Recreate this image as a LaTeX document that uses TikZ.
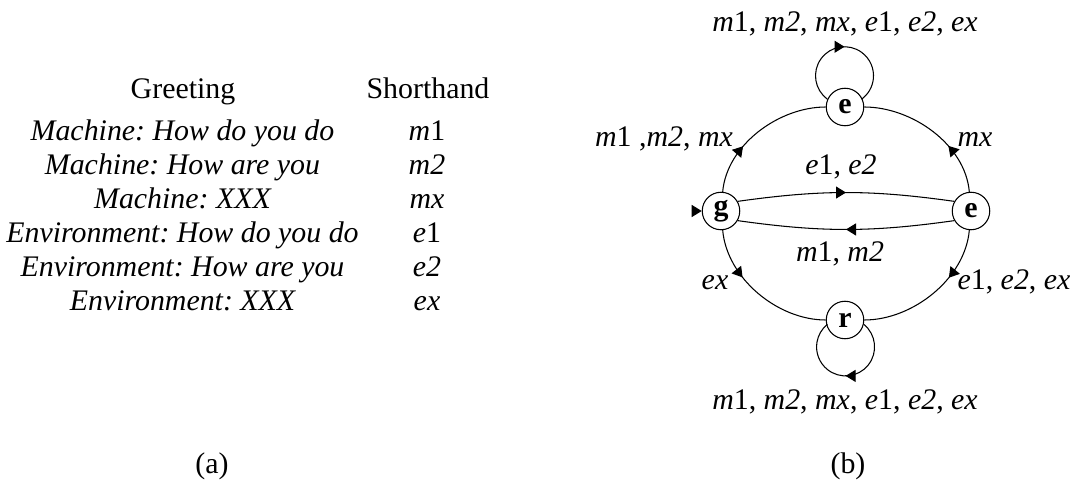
\documentclass[tikz,border=0pt]{standalone}
\usepackage{fontspec}
\setmainfont{Liberation Serif}
\usetikzlibrary{positioning, arrows.meta, calc, decorations.markings}
\frenchspacing

\begin{document}
\begin{tikzpicture}[
    every node/.style={font=\fontsize{17}{20}\selectfont},
    line width=0.6pt,
    state/.style={
        circle,
        draw,
        minimum size=0.75cm,
        inner sep=0pt,
        font=\fontsize{17}{20}\selectfont\bfseries
    },
    head/.style={anchor=base},
    cell/.style={
        anchor=base,
        font=\fontsize{17}{20}\selectfont\itshape
    },
    trans/.style={anchor=base},
    tip/.style={-{Triangle[length=2mm,width=2.4mm]}},
    midarrow/.style={
        postaction={decorate},
        decoration={markings,
            mark=at position #1 with {\arrow{Triangle[length=2mm,width=2.4mm]}}}
    }
]
\useasboundingbox (0,0) rectangle (21.44,9.58);

% --- (a): tabella dei saluti ---
\node[head] (hgreet) at (3.66,7.60) {Greeting};
\node[head] (hshort) at (8.56,7.60) {Shorthand};

\node[cell] (m1txt) at (3.65,6.76) {Machine: How do you do};
\node[cell] (m2txt) at (3.65,6.08) {Machine: How are you};
\node[cell] (mxtxt) at (3.65,5.40) {Machine: XXX};
\node[cell] (e1txt) at (3.65,4.72) {Environment: How do you do};
\node[cell] (e2txt) at (3.65,4.04) {Environment: How are you};
\node[cell] (extxt) at (3.65,3.36) {Environment: XXX};

\node[head] (m1sym) at (8.54,6.76) {\textit{m}1};
\node[head] (m2sym) at (8.54,6.08) {\textit{m2}};
\node[head] (mxsym) at (8.54,5.40) {\textit{mx}};
\node[head] (e1sym) at (8.54,4.72) {\textit{e}1};
\node[head] (e2sym) at (8.54,4.04) {\textit{e2}};
\node[head] (exsym) at (8.54,3.36) {\textit{ex}};

\node[head] (capa) at (4.24,0.12) {(a)};

% --- (b): automa ---
\node[state] (g) at (14.42,5.36) {g};
\node[state] (er) at (19.42,5.36) {e};
\node[state] (et) at (16.90,7.44) {e};
\node[state] (r) at (16.90,3.18) {r};

\coordinate (gin) at ($(g.west)+(-0.2,0)$);
\draw[tip] (gin) -- (g);

% archi esterni
\draw[midarrow=0.35] (g) to[out=85,in=180,looseness=0.9] (et);
\draw[midarrow=0.35] (er) to[out=95,in=0,looseness=0.9] (et);
\draw[midarrow=0.35] (g) to[out=-85,in=180,looseness=0.9] (r);
\draw[midarrow=0.35] (er) to[out=-95,in=0,looseness=0.9] (r);

% archi centrali
\draw[midarrow=0.5] (g.30) to[bend left=8] (er.150);
\draw[midarrow=0.5] (er.210) to[bend left=8] (g.330);

% anelli
\draw[midarrow=0.5] (et.156) arc[start angle=233.8, end angle=-53.8, radius=0.58];
\draw[midarrow=0.5] (r.-13.6) arc[start angle=51.1, end angle=-231.1, radius=0.58];

\node[trans] (lbltop) at (16.90,8.94) {\textit{m}1, \textit{m2}, \textit{mx}, \textit{e}1, \textit{e2}, \textit{ex}};
\node[trans] (lblge) at (13.28,6.64) {\textit{m}1 ,\textit{m2}, \textit{mx}};
\node[trans] (lblee) at (19.50,6.64) {\textit{mx}};
\node[trans] (lblfwd) at (16.82,6.08) {\textit{e}1, \textit{e2}};
\node[trans] (lblback) at (16.80,4.34) {\textit{m}1, \textit{m2}};
\node[trans] (lblgr) at (14.30,3.78) {\textit{ex}};
\node[trans] (lblrr) at (20.28,3.78) {\textit{e}1, \textit{e2}, \textit{ex}};
\node[trans] (lblbot) at (16.90,1.38) {\textit{m}1, \textit{m2}, \textit{mx}, \textit{e}1, \textit{e2}, \textit{ex}};

\node[head] (capb) at (16.96,0.12) {(b)};

\end{tikzpicture}
\end{document}
